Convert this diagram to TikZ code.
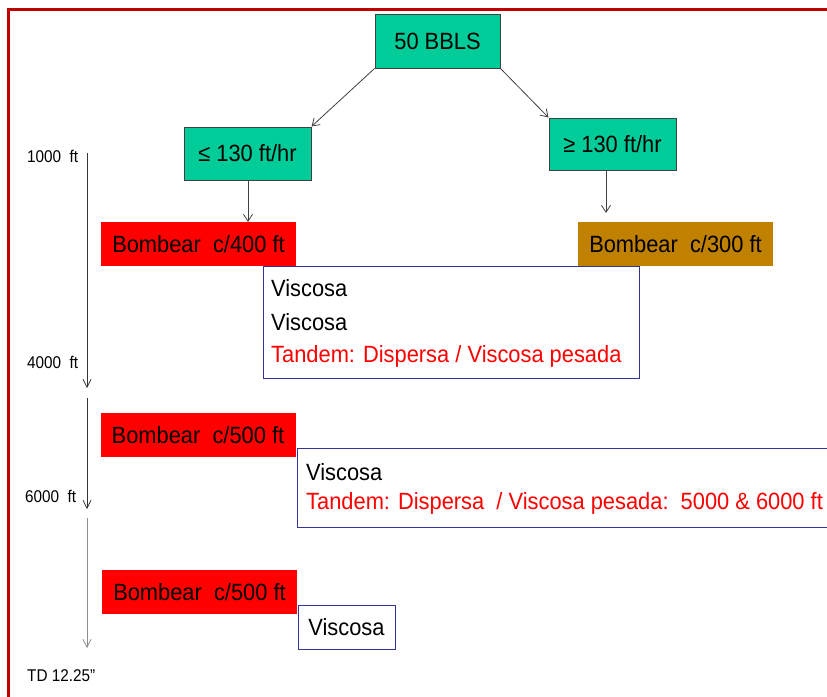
\documentclass[tikz,border=0pt]{standalone}
\usepackage{fontspec}
\setmainfont[FakeStretch=0.93]{Liberation Sans}
\newfontfamily\labelfont[FakeStretch=0.9]{Liberation Sans}
\usetikzlibrary{arrows.meta}
\definecolor{teal1}{HTML}{00CC99}
\definecolor{frame}{HTML}{C00000}
\definecolor{gold1}{HTML}{C08000}
\definecolor{blueb}{HTML}{33339A}
\begin{document}
\begin{tikzpicture}[x=1pt,y=-1pt,
  big/.style={font=\fontsize{23.5}{28}\selectfont},
  small/.style={font=\labelfont\fontsize{17}{20}\selectfont, inner sep=0pt},
  tealbox/.style={big, draw=black!75, line width=1pt, fill=teal1, inner sep=0pt},
  pumpbox/.style={big, fill=red, inner sep=0pt, minimum width=195, minimum height=44},
  infobox/.style={draw=blueb, line width=0.9pt, inner sep=0pt},
  line1/.style={big, anchor=west, inner sep=0pt},
  redline/.style={line1, text=red},
  conn/.style={draw=black!75, line width=0.8pt, -{Straight Barb[length=7pt,width=9pt]}},
  depth/.style={draw=black!80, line width=0.7pt, -{Straight Barb[length=8pt,width=8pt]}}
]
\useasboundingbox (0,0) rectangle (827,696);
% frame
\draw[frame, line width=3pt] (827,9.5) -- (8.5,9.5) -- (8.5,700);

% top nodes
\node[tealbox, minimum width=125, minimum height=54] (bbls) at (437.5,41) {50 BBLS};
\node[tealbox, minimum width=127, minimum height=53] (le) at (247.5,153.5) {≤ 130 ft/hr};
\node[tealbox, minimum width=127, minimum height=52] (ge) at (612.5,144) {≥ 130 ft/hr};

\node[pumpbox] (b400) at (198.5,244) {Bombear\ \ c/400 ft};
\node[pumpbox, fill=gold1] (b300) at (675.5,244) {Bombear\ \ c/300 ft};

\draw[conn] (bbls.south west) -- (le.north east);
\draw[conn] (bbls.south east) -- (ge.north west);
\coordinate (leb) at (248,180);
\coordinate (b4t) at (248,222);
\draw[conn] (leb) -- (b4t);
\coordinate (geb) at (606,170);
\coordinate (b3t) at (606,213);
\draw[conn] (geb) -- (b3t);

% info box 1
\node[infobox, minimum width=376, minimum height=112] (v1) at (451,322) {};
\node[line1] (v1a) at (271,288) {Viscosa};
\node[line1] (v1b) at (271,322) {Viscosa};
\node[redline] (v1c) at (271,356) {Tandem: Dispersa / Viscosa pesada};

% second section
\node[pumpbox] (b500a) at (198,435) {Bombear\ \ c/500 ft};
\node[infobox, minimum width=540, minimum height=79] (v2) at (567,487.5) {};
\node[line1] (v2a) at (306,472) {Viscosa};
\node[redline] (v2b) at (306,503) {Tandem: Dispersa\ \ / Viscosa pesada:\ \ 5000 \& 6000 ft};

% third section
\node[pumpbox] (b500b) at (199.5,592) {Bombear\ \ c/500 ft};
\node[infobox, minimum width=97, minimum height=44, big] (v3) at (346.5,627) {Viscosa};

% depth scale
\node[small, anchor=west] (d1) at (27,156) {1000\ \ ft};
\node[small, anchor=west] (d4) at (27,362) {4000\ \ ft};
\node[small, anchor=west] (d6) at (25,496) {6000\ \ ft};
\node[small, anchor=west] (td) at (27,676) {TD 12.25”};
\coordinate (s1) at (87,153);
\coordinate (e1) at (87,388);
\coordinate (s2) at (87,398);
\coordinate (e2) at (87,509);
\coordinate (s3) at (87,518);
\coordinate (e3) at (87,648);
\draw[depth] (s1) -- (e1);
\draw[depth] (s2) -- (e2);
\draw[depth, draw=black!45] (s3) -- (e3);
\end{tikzpicture}
\end{document}
